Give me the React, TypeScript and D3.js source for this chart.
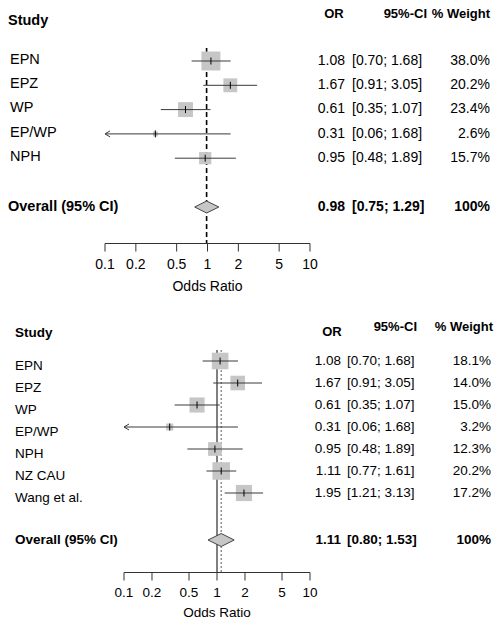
import React from "react";
import * as d3 from "d3";

// ---------- data ----------
const studiesA = ["EPN", "EPZ", "WP", "EP/WP", "NPH"];
const orA = [1.08, 1.67, 0.61, 0.31, 0.95];
const loA = [0.7, 0.91, 0.35, 0.06, 0.48];
const hiA = [1.68, 3.05, 1.07, 1.68, 1.89];
const wA = [38.0, 20.2, 23.4, 2.6, 15.7];
const overallA = [0.98, 0.75, 1.29];

const studiesB = ["EPN", "EPZ", "WP", "EP/WP", "NPH", "NZ CAU", "Wang et al."];
const orB = [1.08, 1.67, 0.61, 0.31, 0.95, 1.11, 1.95];
const loB = [0.7, 0.91, 0.35, 0.06, 0.48, 0.77, 1.21];
const hiB = [1.68, 3.05, 1.07, 1.68, 1.89, 1.61, 3.13];
const wB = [18.1, 14.0, 15.0, 3.2, 12.3, 20.2, 17.2];
const overallB = [1.11, 0.8, 1.53];

const ticks = [0.1, 0.2, 0.5, 1, 2, 5, 10];
const tickLabels = ["0.1", "0.2", "0.5", "1", "2", "5", "10"];

const FONT = "'Liberation Sans', Arial, Helvetica, sans-serif";
const fmt2 = d3.format(".2f");
const fmt1 = d3.format(".1f");

type Layout = {
  x0: number; x1: number; row0: number; rowStep: number; overallY: number;
  axisY: number; tickLabY: number; titleY: number; headY: number; studyHeadY: number;
  orHeadY: number; lineTop: number; labelX: number; studyX: number; boxK: number;
  diaH: number; labFs: number; valFs: number; headFs: number; tickFs: number;
  orEnd: number; ciStart: number; wEnd: number; orHeadX: number; ciHeadEnd: number;
  wHeadEnd: number; labelDy: number; style: "A" | "B";
};

function Panel(props: {
  studies: string[]; or: number[]; lo: number[]; hi: number[]; w: number[];
  overall: number[]; L: Layout;
}) {
  const { studies, or, lo, hi, w, overall, L } = props;
  const x = d3.scaleLog().domain([0.1, 10]).range([L.x0, L.x1]);
  const y = (i: number) => L.row0 + i * L.rowStep;
  const clampX = (v: number) => x(Math.max(0.1, Math.min(10, v)));
  const [oOr, oLo, oHi] = overall;
  const lineCol = "#3a3a3a";

  return (
    <g fontFamily={FONT}>
      {/* headers */}
      <text x={L.studyX} y={L.studyHeadY} fontSize={L.labFs} fontWeight="bold" dominantBaseline="middle">Study</text>
      <text x={L.orHeadX} y={L.orHeadY} fontSize={L.headFs} fontWeight="bold" textAnchor="middle" dominantBaseline="middle">OR</text>
      <text x={L.ciHeadEnd} y={L.headY} fontSize={L.headFs} fontWeight="bold" textAnchor="end" dominantBaseline="middle">95%-CI</text>
      <text x={L.wHeadEnd} y={L.headY} fontSize={L.headFs} fontWeight="bold" textAnchor="end" dominantBaseline="middle">% Weight</text>

      {/* reference lines */}
      {L.style === "A" ? (
        <line x1={x(oOr)} x2={x(oOr)} y1={L.lineTop} y2={L.axisY} stroke="#000" strokeWidth={1.6} strokeDasharray="5,3" />
      ) : (
        <>
          <line x1={x(1)} x2={x(1)} y1={L.lineTop} y2={L.axisY} stroke="#000" strokeWidth={1} />
          <line x1={x(oOr)} x2={x(oOr)} y1={L.lineTop} y2={L.axisY} stroke="#777" strokeWidth={1.2} strokeDasharray="2,2" />
        </>
      )}

      {/* studies */}
      {studies.map((s, i) => {
        const side = L.boxK * Math.sqrt(w[i]);
        const cx = x(or[i]);
        const cy = y(i);
        const left = clampX(lo[i]);
        const right = clampX(hi[i]);
        return (
          <g key={s}>
            <rect x={cx - side / 2} y={cy - side / 2} width={side} height={side} fill="#c6c6c6" />
            <line x1={left} x2={right} y1={cy} y2={cy} stroke={lineCol} strokeWidth={1} />
            {lo[i] < 0.1 && (
              <polyline points={`${left + 5},${cy - 3} ${left},${cy} ${left + 5},${cy + 3}`} fill="none" stroke={lineCol} strokeWidth={1} />
            )}
            <line x1={cx} x2={cx} y1={cy - 3.5} y2={cy + 3.5} stroke="#000" strokeWidth={1} />
            <text x={L.labelX} y={cy + L.labelDy} fontSize={L.labFs} dominantBaseline="middle">{s}</text>
            <text x={L.orEnd} y={cy} fontSize={L.valFs} textAnchor="end" dominantBaseline="middle">{fmt2(or[i])}</text>
            <text x={L.ciStart} y={cy} fontSize={L.valFs} dominantBaseline="middle">{`[${fmt2(lo[i])}; ${fmt2(hi[i])}]`}</text>
            <text x={L.wEnd} y={cy} fontSize={L.valFs} textAnchor="end" dominantBaseline="middle">{`${fmt1(w[i])}%`}</text>
          </g>
        );
      })}

      {/* overall */}
      <polygon
        points={`${x(oLo)},${L.overallY} ${x(oOr)},${L.overallY - L.diaH} ${x(oHi)},${L.overallY} ${x(oOr)},${L.overallY + L.diaH}`}
        fill="#c6c6c6" stroke="#444" strokeWidth={1}
      />
      <text x={L.studyX} y={L.overallY} fontSize={L.labFs} fontWeight="bold" dominantBaseline="middle">Overall (95% CI)</text>
      <text x={L.orEnd} y={L.overallY} fontSize={L.valFs} fontWeight="bold" textAnchor="end" dominantBaseline="middle">{fmt2(oOr)}</text>
      <text x={L.ciStart} y={L.overallY} fontSize={L.valFs} fontWeight="bold" dominantBaseline="middle">{`[${fmt2(oLo)}; ${fmt2(oHi)}]`}</text>
      <text x={L.wEnd} y={L.overallY} fontSize={L.valFs} fontWeight="bold" textAnchor="end" dominantBaseline="middle">100%</text>

      {/* axis */}
      <line x1={L.x0} x2={L.x1} y1={L.axisY} y2={L.axisY} stroke="#333" strokeWidth={1} />
      {ticks.map((t, i) => (
        <g key={t}>
          <line x1={x(t)} x2={x(t)} y1={L.axisY} y2={L.axisY + 8} stroke="#333" strokeWidth={1} />
          <text x={x(t)} y={L.tickLabY} fontSize={L.tickFs} textAnchor="middle" dominantBaseline="middle">{tickLabels[i]}</text>
        </g>
      ))}
      <text x={x(1)} y={L.titleY} fontSize={L.tickFs} textAnchor="middle" dominantBaseline="middle">Odds Ratio</text>
    </g>
  );
}

const layoutA: Layout = {
  x0: 105, x1: 310, row0: 61, rowStep: 24.3, overallY: 207, axisY: 243.5, tickLabY: 265,
  titleY: 287, headY: 15, studyHeadY: 21, orHeadY: 15, lineTop: 48, labelX: 10, studyX: 8,
  boxK: 3.08, diaH: 6, labFs: 14.5, valFs: 14, headFs: 13, tickFs: 14,
  orEnd: 345, ciStart: 352, wEnd: 490, orHeadX: 334, ciHeadEnd: 427, wHeadEnd: 490,
  labelDy: -1, style: "A",
};

const layoutB: Layout = {
  x0: 124, x1: 310, row0: 361, rowStep: 22, overallY: 540, axisY: 572.5, tickLabY: 593,
  titleY: 613, headY: 328, studyHeadY: 333, orHeadY: 333, lineTop: 350, labelX: 15, studyX: 15,
  boxK: 3.9, diaH: 6.5, labFs: 13.5, valFs: 13.5, headFs: 13, tickFs: 13.5,
  orEnd: 341, ciStart: 347, wEnd: 491, orHeadX: 332, ciHeadEnd: 417, wHeadEnd: 493,
  labelDy: 5, style: "B",
};

export default function App() {
  return (
    <svg width={502} height={628} style={{ position: "absolute", left: 0, top: 0, background: "#fff" }}>
      <rect width={502} height={628} fill="#fff" />
      <Panel studies={studiesA} or={orA} lo={loA} hi={hiA} w={wA} overall={overallA} L={layoutA} />
      <Panel studies={studiesB} or={orB} lo={loB} hi={hiB} w={wB} overall={overallB} L={layoutB} />
    </svg>
  );
}
